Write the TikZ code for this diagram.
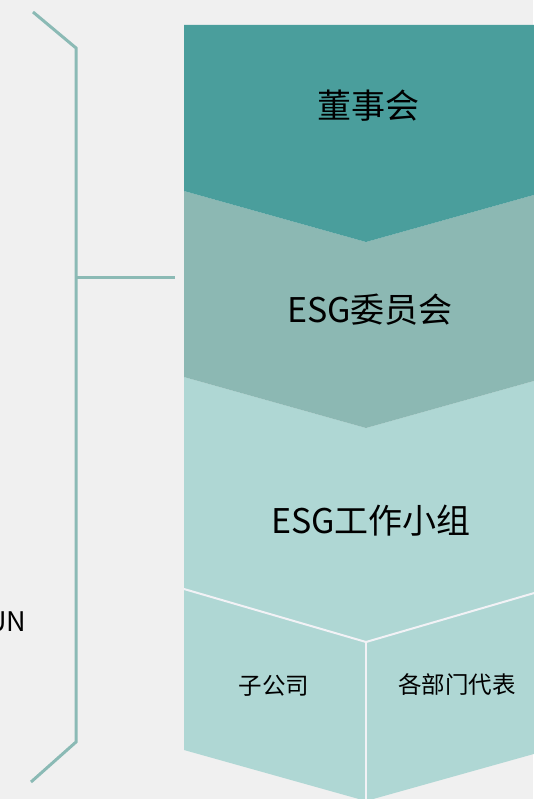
\documentclass[tikz,border=0pt]{standalone}
\usepackage{fontspec}
\setmainfont{Noto Sans CJK SC}
\definecolor{bg}{HTML}{F0F0F0}
\definecolor{tealdark}{HTML}{4A9E9C}
\definecolor{tealmid}{HTML}{8CB8B3}
\definecolor{teallight}{HTML}{AFD7D4}
\definecolor{bracketcol}{HTML}{8BBAB5}
\definecolor{sepcol}{HTML}{F2F2F6}
\tikzset{
  bigtext/.style={inner sep=0pt, font=\fontsize{34}{40}\selectfont, text=black},
  smalltext/.style={inner sep=0pt, font=\fontsize{23.5}{28}\selectfont, text=black},
  bracketline/.style={draw=bracketcol, line width=3pt},
  sepline/.style={draw=sepcol, line width=2pt}
}
\begin{document}
\begin{tikzpicture}[x=1pt,y=-1pt]
\useasboundingbox (0,0) rectangle (533,799);
\fill[bg] (0,0) rectangle (533,799);
% coordinates
\coordinate (L1) at (184,191); \coordinate (C1) at (366,242); \coordinate (R1) at (548,191);
\coordinate (L2) at (184,377); \coordinate (C2) at (366,428); \coordinate (R2) at (548,377);
\coordinate (L3) at (184,589); \coordinate (C3) at (366,642); \coordinate (R3) at (548,589);
\coordinate (L4) at (184,750); \coordinate (C4) at (366,801); \coordinate (R4) at (548,750);
% blocks
\fill[teallight] (L2) -- (C2) -- (R2) -- (R4) -- (C4) -- (L4) -- cycle;
\fill[tealmid] (L1) -- (C1) -- (R1) -- (R2) -- (C2) -- (L2) -- cycle;
\fill[tealdark] (184,25) -- (548,25) -- (R1) -- (C1) -- (L1) -- cycle;
% separators
\draw[sepline] (L3) -- (C3) -- (R3);
\draw[sepline] (C3) -- (C4);
% bracket
\coordinate (b0) at (33,12); \coordinate (b1) at (76,48);
\coordinate (b2) at (76,742); \coordinate (b3) at (31,782);
\coordinate (bm) at (76,277); \coordinate (be) at (175,277);
\draw[bracketline] (b0) -- (b1) -- (b2) -- (b3);
\draw[bracketline] (bm) -- (be);
% texts
\node[bigtext] (board) at (368,106) {董事会};
\node[bigtext] (comm) at (370,310) {ESG委员会};
\node[bigtext] (work) at (371,521) {ESG工作小组};
\node[smalltext] (sub) at (274,686) {子公司};
\node[smalltext] (dept) at (457,685) {各部门代表};
\node[inner sep=0pt, anchor=east, font=\fontsize{27}{32}\selectfont] (un) at (26.5,622) {UN};
\end{tikzpicture}
\end{document}
